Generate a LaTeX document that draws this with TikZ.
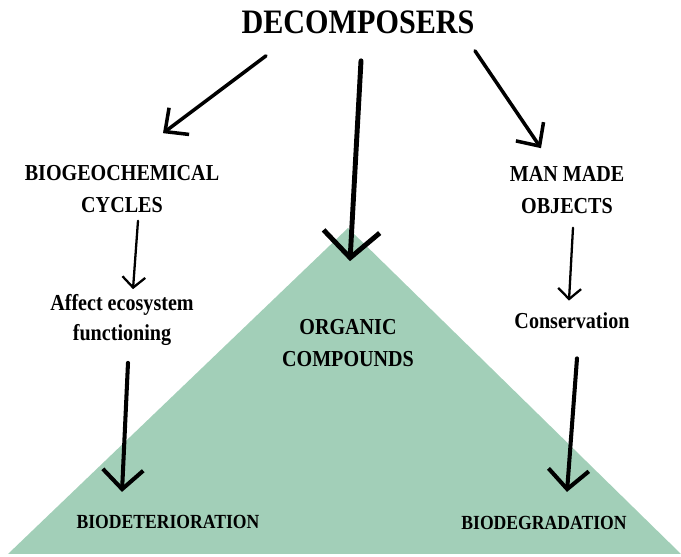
\documentclass[tikz,border=0pt]{standalone}
\usepackage{fontspec}
\setmainfont{Liberation Serif}[FakeStretch=0.88]
\usepackage{tikz}
\usetikzlibrary{arrows.meta}
\definecolor{mint}{RGB}{162,207,184}

\begin{document}
\begin{tikzpicture}[x=0.02cm,y=-0.02cm,
		titletext/.style={font=\bfseries\fontsize{19.5}{22}\selectfont},
		headtext/.style={font=\bfseries\fontsize{13}{18}\selectfont,align=center},
		smalltext/.style={font=\bfseries\fontsize{13}{17}\selectfont,align=center},
		endtext/.style={font=\bfseries\fontsize{11.4}{14}\selectfont},
		thinarrow/.style={line width=1.3pt,line cap=round,-{Straight Barb[length=6pt,width=13pt]}},
		toparrow/.style={line width=2pt,line cap=round,-{Straight Barb[length=10pt,width=19pt]}},
		midarrow/.style={line width=2.8pt,line cap=round,-{Straight Barb[length=15pt,width=32pt]}},
		lowarrow/.style={line width=2.3pt,line cap=round,-{Straight Barb[length=11pt,width=23pt]}}]
			\tikzstyle{every node}+=[inner sep=0pt]
			\useasboundingbox (0,0) rectangle (681,557);
			\coordinate (apex) at (348,228);
			\fill [mint] (apex) -- (8,554) -- (681,554) -- cycle;
			\node [titletext] (title) at (358,22) {DECOMPOSERS};
			\node [headtext] (bio) at (122,189) {BIOGEOCHEMICAL\\CYCLES};
			\node [headtext] (man) at (567,190) {MAN MADE\\OBJECTS};
			\node [smalltext] (affect) at (122,320) {Affect ecosystem\\functioning};
			\node [smalltext] (conserv) at (572,321) {Conservation};
			\node [headtext] (organic) at (348,343) {ORGANIC\\COMPOUNDS};
			\node [endtext] (biodet) at (168,522) {BIODETERIORATION};
			\node [endtext] (biodeg) at (544,523) {BIODEGRADATION};
			\draw [toparrow] ([shift={(-92,22)}]title.south) -- ([shift={(41,-32)}]bio.north);
			\draw [midarrow] ([shift={(3,27)}]title.south) -- ([shift={(2,-58)}]organic.north);
			\draw [toparrow] ([shift={(117,17)}]title.south) -- ([shift={(-26,-18)}]man.north);
			\draw [thinarrow] ([shift={(16,8)}]bio.south) -- ([shift={(11,-5)}]affect.north);
			\draw [thinarrow] ([shift={(6,14)}]man.south) -- ([shift={(-3,-12)}]conserv.north);
			\draw [lowarrow] ([shift={(6,17)}]affect.south) -- ([shift={(-46,-23)}]biodet.north);
			\draw [lowarrow] ([shift={(5,29)}]conserv.south) -- ([shift={(23,-24)}]biodeg.north);
\end{tikzpicture}
\end{document}
